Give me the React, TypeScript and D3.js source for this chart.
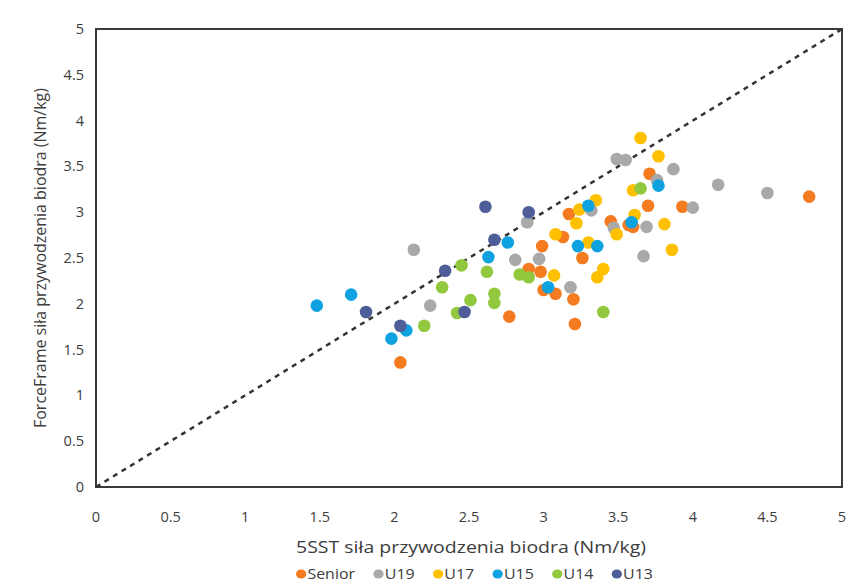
import React, { useEffect, useRef } from "react";
import * as d3 from "d3";

const svgWidth = 849;
const svgHeight = 585;
const plot = { left: 96, right: 842, top: 29, bottom: 487 };

const groups = ["Senior", "U19", "U17", "U15", "U14", "U13"];
const colors = ["#f47b20", "#a9a9a9", "#ffc000", "#0ea2e0", "#92c83e", "#4f5e98"];

// [5SST, ForceFrame] per athlete
const senior = [
  [4.78, 3.17], [3.93, 3.06], [3.71, 3.42], [3.7, 3.07], [3.17, 2.98],
  [3.45, 2.9], [3.57, 2.86], [3.6, 2.84], [3.13, 2.73], [2.99, 2.63],
  [3.26, 2.5], [2.9, 2.38], [2.98, 2.35], [3.0, 2.15], [3.08, 2.11],
  [3.2, 2.05], [2.77, 1.86], [3.21, 1.78], [2.04, 1.36],
];
const u19 = [
  [3.49, 3.58], [3.55, 3.57], [3.87, 3.47], [3.76, 3.35], [4.17, 3.3],
  [4.5, 3.21], [4.0, 3.05], [3.32, 3.02], [2.89, 2.89], [3.47, 2.83],
  [3.69, 2.84], [2.81, 2.48], [2.97, 2.49], [3.67, 2.52], [3.18, 2.18],
  [2.13, 2.59], [2.24, 1.98],
];
const u17 = [
  [3.65, 3.81], [3.77, 3.61], [3.6, 3.24], [3.35, 3.13], [3.24, 3.03],
  [3.22, 2.88], [3.61, 2.97], [3.81, 2.87], [3.49, 2.76], [3.08, 2.76],
  [3.3, 2.67], [3.86, 2.59], [3.07, 2.31], [3.4, 2.38], [3.36, 2.29],
];
const u15 = [
  [3.77, 3.29], [3.3, 3.07], [3.59, 2.89], [2.76, 2.67], [2.63, 2.51],
  [3.23, 2.63], [3.36, 2.63], [3.03, 2.18], [1.48, 1.98], [1.71, 2.1],
  [2.08, 1.71], [1.98, 1.62],
];
const u14 = [
  [3.65, 3.26], [2.45, 2.42], [2.62, 2.35], [2.84, 2.32], [2.9, 2.29],
  [2.51, 2.04], [2.67, 2.11], [2.67, 2.01], [2.42, 1.9], [3.4, 1.91],
  [2.32, 2.18], [2.2, 1.76],
];
const u13 = [
  [2.61, 3.06], [2.9, 3.0], [2.67, 2.7], [2.47, 1.91], [2.34, 2.36],
  [1.81, 1.91], [2.04, 1.76],
];
const series = [senior, u19, u17, u15, u14, u13];

const xTicks = [0, 0.5, 1, 1.5, 2, 2.5, 3, 3.5, 4, 4.5, 5];
const yTicks = [0, 0.5, 1, 1.5, 2, 2.5, 3, 3.5, 4, 4.5, 5];
const xTitle = "5SST siła przywodzenia biodra (Nm/kg)";
const yTitle = "ForceFrame siła przywodzenia biodra (Nm/kg)";

const xScale = d3.scaleLinear([0, 5], [plot.left, plot.right]);
const yScale = d3.scaleLinear([0, 5], [plot.bottom, plot.top]);

const font = "'Open Sans', sans-serif";
const textColor = "#3c3c3c";

export default function App() {
  const ref = useRef<SVGSVGElement>(null);

  useEffect(() => {
    const svg = d3.select(ref.current);
    svg.selectAll("*").remove();

    // frame
    svg
      .append("rect")
      .attr("x", plot.left)
      .attr("y", plot.top)
      .attr("width", plot.right - plot.left)
      .attr("height", plot.bottom - plot.top)
      .attr("fill", "none")
      .attr("stroke", "#3a3a3a")
      .attr("stroke-width", 2);

    // y = x reference line
    svg
      .append("line")
      .attr("x1", xScale(0))
      .attr("y1", yScale(0))
      .attr("x2", xScale(5))
      .attr("y2", yScale(5))
      .attr("stroke", "#333")
      .attr("stroke-width", 2.5)
      .attr("stroke-dasharray", "5,5");

    // points
    series.forEach((pts, i) => {
      svg
        .append("g")
        .selectAll("circle")
        .data(pts)
        .join("circle")
        .attr("cx", (d) => xScale(d[0]))
        .attr("cy", (d) => yScale(d[1]))
        .attr("r", 6.3)
        .attr("fill", colors[i]);
    });

    // tick labels
    svg
      .append("g")
      .selectAll("text")
      .data(xTicks)
      .join("text")
      .attr("x", (d) => xScale(d))
      .attr("y", 522)
      .attr("text-anchor", "middle")
      .attr("font-family", font)
      .attr("font-size", 14.5)
      .attr("fill", textColor)
      .text((d) => String(d));

    svg
      .append("g")
      .selectAll("text")
      .data(yTicks)
      .join("text")
      .attr("x", 84)
      .attr("y", (d) => yScale(d) + 5)
      .attr("text-anchor", "end")
      .attr("font-family", font)
      .attr("font-size", 14.5)
      .attr("fill", textColor)
      .text((d) => String(d));

    // axis titles
    svg
      .append("text")
      .attr("x", 471)
      .attr("y", 553)
      .attr("text-anchor", "middle")
      .attr("font-family", font)
      .attr("font-size", 16)
      .attr("textLength", 350)
      .attr("lengthAdjust", "spacingAndGlyphs")
      .attr("fill", textColor)
      .text(xTitle);

    svg
      .append("text")
      .attr("transform", `translate(46,${(plot.top + plot.bottom) / 2}) rotate(-90)`)
      .attr("text-anchor", "middle")
      .attr("font-family", font)
      .attr("font-size", 15.5)
      .attr("textLength", 340)
      .attr("lengthAdjust", "spacingAndGlyphs")
      .attr("fill", textColor)
      .text(yTitle);

    // legend
    const legend = svg.append("g");
    let lx = 0;
    groups.forEach((g, i) => {
      const item = legend.append("g").attr("transform", `translate(${lx},0)`);
      item.append("circle").attr("cx", 4.5).attr("cy", 0).attr("r", 4.5).attr("fill", colors[i]);
      const t = item
        .append("text")
        .attr("x", 10)
        .attr("y", 5)
        .attr("font-family", font)
        .attr("font-size", 14)
        .attr("fill", textColor)
        .text(g);
      const w = (t.node() as SVGTextElement).getComputedTextLength();
      lx += 10 + w + (i < groups.length - 1 ? 16 : 0);
    });
    const k = 357 / lx;
    legend.attr("transform", `translate(296,574) scale(${k},1)`);
  }, []);

  return (
    <div style={{ position: "absolute", left: 0, top: 0 }}>
      <svg ref={ref} width={svgWidth} height={svgHeight} style={{ display: "block", background: "#fff" }}></svg>
    </div>
  );
}
